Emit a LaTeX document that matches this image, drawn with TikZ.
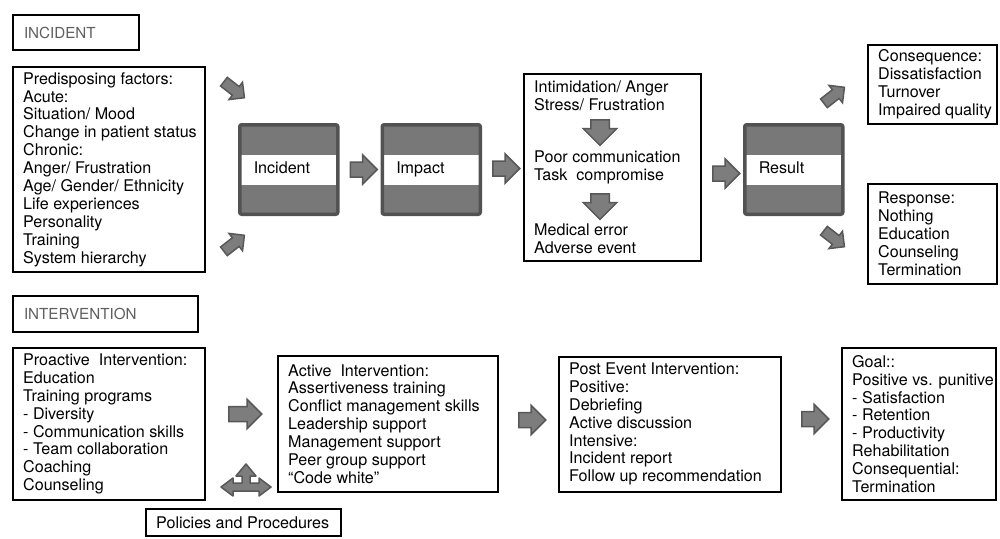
\documentclass[tikz,border=0pt]{standalone}
\usepackage{fontspec}
\setmainfont{TeX Gyre Heros}
\usepackage{xcolor}
\usepackage{tikz}
\usetikzlibrary{shapes,arrows,positioning,calc}
\definecolor{blockGrey}{RGB}{120,120,120}
\definecolor{blockEdge}{RGB}{82,82,82}
\definecolor{arrowGrey}{RGB}{125,125,125}
\definecolor{arrowEdge}{RGB}{88,88,88}
\definecolor{labelGrey}{RGB}{95,95,95}

\begin{document}
\begin{tikzpicture}[x=1pt, y=-1pt, font=\fontsize{16.1}{17.9}\selectfont,
    txtbox/.style={rectangle, draw=black, fill=white, line width=2pt, inner sep=0pt, anchor=north west},
    boxtxt/.style={inner sep=0pt, align=left, anchor=west},
    lblbox/.style={rectangle, draw=black, fill=white, line width=2pt, align=left, inner xsep=11pt, inner ysep=0pt, anchor=north west, text=labelGrey, font=\fontsize{15.2}{17}\selectfont},
    darkbox/.style={rectangle, draw=blockEdge, fill=blockGrey, line width=3.5pt, rounded corners=2pt, minimum width=98pt, minimum height=89.5pt, text width=70pt, inner xsep=14pt, align=left, text height=11.6pt, text depth=3.4pt,
        path picture={\fill[white, sharp corners] ([yshift=15pt]path picture bounding box.west) rectangle ([yshift=-15pt, xshift=-1.5pt]path picture bounding box.east);}},
    midtxt/.style={inner sep=0pt, align=left, anchor=north west},
    blkarrow/.style={single arrow, draw=arrowEdge, fill=arrowGrey, line width=1.5pt, inner xsep=0pt, inner ysep=6.75pt, minimum height=27pt, minimum width=28pt, single arrow head extend=7.25pt},
    diagarrow/.style={blkarrow, inner ysep=4.75pt, minimum height=26pt, minimum width=20.5pt, single arrow head extend=5.5pt},
    downarrow/.style={blkarrow, rotate=-90, inner ysep=8.5pt, minimum height=25.5pt, minimum width=32pt, single arrow head extend=7.5pt},
    arrowpath/.style={fill=arrowGrey, draw=arrowEdge, line width=1.5pt, line join=round}]
    \useasboundingbox (0,0) rectangle (1000,538);

    \node[lblbox, minimum width=126pt, minimum height=35pt, text width=104pt] (incLbl) at (12,14) {INCIDENT};
    \node[txtbox, minimum width=192pt, minimum height=205pt] (pred) at (12,66) {};
    \node[boxtxt] (predTxt) at ([xshift=11pt]pred.west) {Predisposing factors:\\ Acute:\\ Situation/ Mood\\ Change in patient status\\ Chronic:\\ Anger/ Frustration\\ Age/ Gender/ Ethnicity\\ Life experiences\\ Personality\\ Training\\ System hierarchy};
    \node[darkbox, anchor=north west] (inc) at (238,123) {Incident};
    \node[darkbox, right=41pt of inc] (imp) {Impact};
    \node[txtbox, minimum width=177pt, minimum height=187pt] (mid) at (523,73) {};
    \node[midtxt] (midA) at (534,81) {Intimidation/ Anger\\ Stress/ Frustration};
    \node[midtxt] (midB) at (534,151) {Poor communication\\ Task\ \ compromise};
    \node[midtxt] (midC) at (534,224) {Medical error\\ Adverse event};
    \node[darkbox, anchor=north west] (res) at (743,123) {Result};
    \node[txtbox, minimum width=129pt, minimum height=79pt] (cons) at (867,44) {};
    \node[boxtxt] (consTxt) at ([xshift=11pt]cons.west) {Consequence:\\ Dissatisfaction\\ Turnover\\ Impaired quality};
    \node[txtbox, minimum width=129pt, minimum height=100pt] (resp) at (867,183) {};
    \node[boxtxt] (respTxt) at ([xshift=11pt]resp.west) {Response:\\ Nothing\\ Education\\ Counseling\\ Termination};

    \node[diagarrow, rotate=-38] (pa1) at (232,88) {};
    \node[diagarrow, rotate=38] (pa2) at (232,245) {};
    \node[blkarrow] (ar1) at ($(inc.east)!0.5!(imp.west)$) {};
    \node[blkarrow] (ar2) at ($(imp.east)!0.5!(mid.west)$) {};
    \node[blkarrow, yshift=-5pt] (ar3) at ($(mid.east)!0.5!(res.west)$) {};
    \node[downarrow] (dn1) at (600,128) {};
    \node[downarrow] (dn2) at (600,202) {};
    \node[diagarrow, rotate=38] (ra1) at (832,97) {};
    \node[diagarrow, rotate=-38] (ra2) at (832,237) {};

    \node[lblbox, minimum width=185pt, minimum height=36pt, text width=163pt] (intLbl) at (12,295) {INTERVENTION};
    \node[txtbox, minimum width=192pt, minimum height=152pt] (pro) at (12,347) {};
    \node[boxtxt] (proTxt) at ([xshift=11pt]pro.west) {Proactive\ \ Intervention:\\ Education\\ Training programs\\ - Diversity\\ - Communication skills\\ - Team collaboration\\ Coaching\\ Counseling};
    \node[txtbox, minimum width=220pt, minimum height=136pt, right=71pt of pro] (act) {};
    \node[boxtxt] (actTxt) at ([xshift=11pt]act.west) {Active\ \ Intervention:\\ Assertiveness training\\ Conflict management skills\\ Leadership support\\ Management support\\ Peer group support\\ “Code white”};
    \node[txtbox, minimum width=222pt, minimum height=135pt, right=59pt of act] (post) {};
    \node[boxtxt] (postTxt) at ([xshift=11pt]post.west) {Post Event Intervention:\\ Positive:\\ Debriefing\\ Active discussion\\ Intensive:\\ Incident report\\ Follow up recommendation};
    \node[txtbox, minimum width=154pt, minimum height=152pt, right=59pt of post] (goal) {};
    \node[boxtxt] (goalTxt) at ([xshift=11pt]goal.west) {Goal::\\ Positive vs. punitive\\ - Satisfaction\\ - Retention\\ - Productivity\\ Rehabilitation\\ Consequential:\\ Termination};
    \node[txtbox, minimum width=195pt, minimum height=27pt] (pol) at (145,508) {};
    \node[boxtxt] (polTxt) at ([xshift=11pt]pol.west) {Policies and Procedures};

    \node[blkarrow, minimum height=33pt, yshift=10pt] (br1) at ($(pro.east)!0.5!(act.west)$) {};
    \node[blkarrow, yshift=4pt] (br2) at ($(act.east)!0.5!(post.west)$) {};
    \node[blkarrow, yshift=5pt] (br3) at ($(post.east)!0.5!(goal.west)$) {};
    \draw[arrowpath] (221,487) -- (233,478) -- (233,483) -- (242,483) -- (242,476) -- (236,476) -- (246,464) -- (256,476) -- (250,476) -- (250,483) -- (259,483) -- (259,478) -- (271,487) -- (259,496) -- (259,491) -- (233,491) -- (233,496) -- cycle;
\end{tikzpicture}
\end{document}
